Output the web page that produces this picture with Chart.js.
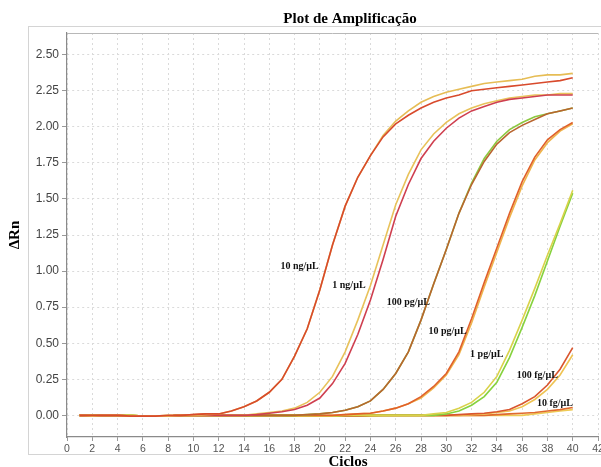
<!DOCTYPE html>
<html>
<head>
<meta charset="utf-8">
<script src="https://cdn.jsdelivr.net/npm/chart.js@4"></script>
<style>
  html, body { margin: 0; padding: 0; background: #fff; overflow: hidden; }
  #wrap { width: 601px; height: 467px; overflow: hidden; }
</style>
</head>
<body>
<div id="wrap"><canvas id="plot" width="606" height="467"></canvas></div>
<script>
// ciclos (eixo x)
const ciclos = [1,2,3,4,5,6,7,8,9,10,11,12,13,14,15,16,17,18,19,20,21,22,23,24,25,26,27,28,29,30,31,32,33,34,35,36,37,38,39,40];

// ΔRn de cada amostra (duas replicatas por concentracao)
const ng10a = [0,-0.005,0,0,-0.005,-0.005,-0.005,-0.005,0,0,0.005,0.01,0.03,0.06,0.10,0.16,0.25,0.41,0.60,0.87,1.18,1.45,1.65,1.80,1.94,2.04,2.11,2.17,2.21,2.24,2.26,2.28,2.30,2.31,2.32,2.33,2.35,2.36,2.36,2.37];
const ng10b = [0,0,0,0,-0.005,-0.005,-0.005,0,0,0.005,0.01,0.01,0.03,0.06,0.10,0.16,0.25,0.41,0.60,0.87,1.18,1.45,1.65,1.80,1.93,2.02,2.08,2.13,2.17,2.20,2.22,2.25,2.26,2.27,2.28,2.29,2.30,2.31,2.32,2.34];
const ng1a = [0,0,0,0,0,-0.005,-0.005,-0.005,0,0,0,0,0,0,0.01,0.02,0.03,0.05,0.09,0.16,0.27,0.44,0.66,0.90,1.18,1.46,1.67,1.84,1.95,2.03,2.09,2.13,2.16,2.18,2.20,2.21,2.22,2.22,2.23,2.23];
const ng1b = [0,-0.005,0,0,-0.005,-0.005,-0.005,-0.005,0,0,0,0,0,0,0.005,0.015,0.025,0.04,0.07,0.12,0.22,0.36,0.56,0.80,1.08,1.38,1.60,1.78,1.90,1.99,2.06,2.11,2.14,2.17,2.19,2.20,2.21,2.22,2.22,2.22];
const pg100a = [0,0,0,0,-0.005,-0.005,-0.005,-0.005,0,0,0,0,0,0,0,0,0,0,0.005,0.01,0.02,0.035,0.06,0.10,0.18,0.29,0.44,0.66,0.91,1.15,1.40,1.60,1.76,1.88,1.96,2.01,2.05,2.09,2.11,2.13];
const pg100b = [0,0,0,0,0,-0.005,-0.005,-0.005,0,0,0,0,0,0,0,0,0,0,0.005,0.01,0.02,0.035,0.06,0.10,0.18,0.29,0.44,0.66,0.91,1.15,1.40,1.61,1.78,1.90,1.98,2.03,2.07,2.09,2.11,2.13];
const pg10a = [0,0,0,0,-0.005,-0.005,-0.005,-0.005,0,0,0,0,0,0,0,0,0,0,0,0,0,0.005,0.01,0.015,0.03,0.05,0.08,0.13,0.20,0.29,0.44,0.67,0.92,1.16,1.40,1.62,1.79,1.91,1.98,2.03];
const pg10b = [0,0,0,0,0,-0.005,-0.005,-0.005,0,0,0,0,0,0,0,0,0,0,0,0,0,0.005,0.01,0.015,0.03,0.05,0.08,0.12,0.19,0.28,0.42,0.64,0.89,1.13,1.37,1.59,1.77,1.89,1.97,2.02];
const pg1a = [0,0,0,0,-0.005,-0.005,-0.005,0,0,0,0,0,0,0,0,0,0,-0.005,-0.005,-0.005,-0.005,0,0,0,0,0,0,0,0.01,0.02,0.05,0.09,0.16,0.27,0.45,0.66,0.88,1.11,1.33,1.56];
const pg1b = [0,0,0,0,0,-0.005,-0.005,-0.005,0,0,0,0,0,0,0,0,0,-0.005,-0.005,-0.005,-0.005,0,0,0,0,0,0,0,0,0.01,0.03,0.07,0.13,0.23,0.40,0.61,0.83,1.07,1.31,1.54];
const fg100a = [0,-0.005,0,0,-0.005,-0.005,-0.005,-0.005,0,0,0.005,0,0,0,0,0,0,0,0,-0.005,-0.005,-0.005,-0.005,0,0,0,0,0,0,0,0.005,0.01,0.015,0.025,0.04,0.08,0.13,0.21,0.32,0.47];
const fg100b = [0,0,0,0,0,-0.005,-0.005,-0.005,0,0,0,0,0,0,0,0,0,0,-0.005,-0.005,-0.005,-0.005,0,0,0,0,0,0,0,0,0,0.005,0.01,0.02,0.03,0.06,0.11,0.18,0.28,0.42];
const fg10a = [0,0,0,0,-0.005,-0.005,-0.005,-0.005,0,0.005,0.01,0,0,0,0,0,0,0,-0.005,-0.005,-0.005,-0.005,-0.005,0,0,0,0,0,0,0,0,0,0,0.005,0.01,0.015,0.02,0.03,0.04,0.055];
const fg10b = [0,0,0,0,0,-0.005,-0.005,-0.005,0,0,0,0,0,0,0,0,0,0,-0.005,-0.005,-0.005,-0.005,-0.005,-0.005,0,0,0,0,0,0,0,0,0,0,0,0,0.01,0.02,0.03,0.04];

// rotulos das concentracoes: texto, ciclo, ΔRn
const rotulos = ["10 ng/µL","1 ng/µL","100 pg/µL","10 pg/µL","1 pg/µL","100 fg/µL","10 fg/µL"];
const rotuloX = [18.4, 22.3, 27.0, 30.1, 33.2, 37.2, 38.6];
const rotuloY = [1.03, 0.90, 0.78, 0.58, 0.42, 0.28, 0.08];

const serie = (vals, cor) => ({
  data: ciclos.map((c, i) => ({ x: c, y: vals[i] })),
  borderColor: cor,
  borderWidth: 1.6,
  pointRadius: 0,
  tension: 0,
  fill: false
});

const decor = {
  id: "decor",
  beforeDraw(chart) {
    const ctx = chart.ctx;
    ctx.save();
    ctx.fillStyle = "#fff";
    ctx.fillRect(0, 0, chart.width, chart.height);
    ctx.strokeStyle = "#d4d4d4";
    ctx.lineWidth = 1;
    ctx.strokeRect(28.5, 26.5, 580, 428);
    ctx.restore();
  },
  afterDatasetsDraw(chart) {
    const ctx = chart.ctx;
    const { x, y } = chart.scales;
    ctx.save();
    ctx.font = "bold 10px 'Liberation Serif', 'Times New Roman', serif";
    ctx.fillStyle = "#111";
    ctx.textAlign = "center";
    ctx.textBaseline = "middle";
    rotulos.forEach((t, i) => {
      ctx.fillText(t, x.getPixelForValue(rotuloX[i]), y.getPixelForValue(rotuloY[i]));
    });
    // borda superior da area
    const a = chart.chartArea;
    ctx.strokeStyle = "#b8b8b8";
    ctx.beginPath();
    ctx.moveTo(a.left, a.top + 0.5);
    ctx.lineTo(a.right, a.top + 0.5);
    ctx.stroke();
    ctx.restore();
  },
  afterDraw(chart) {
    const ctx = chart.ctx;
    const a = chart.chartArea;
    ctx.save();
    ctx.fillStyle = "#000";
    ctx.textAlign = "center";
    ctx.textBaseline = "alphabetic";
    ctx.font = "bold 15px 'Liberation Serif', 'Times New Roman', serif";
    ctx.fillText("Plot de Amplificação", 350, 23);
    ctx.fillText("Ciclos", 348, 466);
    ctx.translate(19, (a.top + a.bottom) / 2);
    ctx.rotate(-Math.PI / 2);
    ctx.fillText("ΔRn", 0, 0);
    ctx.restore();
  }
};

new Chart(document.getElementById("plot"), {
  type: "line",
  data: {
    datasets: [
      serie(ng10b, "#d84a2c"),
      serie(ng10a, "#e6bd55"),
      serie(ng1b, "#cf3f4f"),
      serie(ng1a, "#e8c25a"),
      serie(pg100a, "#b9652f"),
      serie(pg100b, "#8cc83f"),
      serie(pg10a, "#e0602a"),
      serie(pg10b, "#efb54c"),
      serie(pg1a, "#d9d24a"),
      serie(pg1b, "#86d23e"),
      serie(fg100a, "#d9552e"),
      serie(fg100b, "#efc352"),
      serie(fg10a, "#e06a2e"),
      serie(fg10b, "#eecb55")
    ]
  },
  options: {
    responsive: false,
    animation: false,
    layout: { padding: { left: 30, top: 33, right: 8, bottom: 10 } },
    plugins: { legend: { display: false }, tooltip: { enabled: false } },
    scales: {
      x: {
        type: "linear",
        min: 0,
        max: 42,
        afterFit(s) { s.height = 20; },
        ticks: {
          stepSize: 2,
          color: "#555",
          padding: 2,
          maxRotation: 0,
          font: { family: "'Liberation Sans', Arial, sans-serif", size: 10.5 }
        },
        grid: { color: "#dadada", tickColor: "#999", tickLength: 4 },
        border: { color: "#8a8a8a", width: 1.2, dash: [2, 3] }
      },
      y: {
        min: -0.15,
        max: 2.65,
        afterFit(s) { s.width = 37; },
        afterBuildTicks(s) {
          s.ticks = s.ticks.filter(t => t.value >= 0 && t.value <= 2.5);
        },
        ticks: {
          stepSize: 0.25,
          color: "#444",
          padding: 3,
          callback: v => v.toFixed(2),
          font: { family: "'Liberation Sans', Arial, sans-serif", size: 12 }
        },
        grid: { color: "#dadada", tickColor: "#999", tickLength: 5 },
        border: { color: "#8a8a8a", width: 1.2, dash: [2, 3] }
      }
    }
  },
  plugins: [decor]
});
</script>
</body>
</html>
